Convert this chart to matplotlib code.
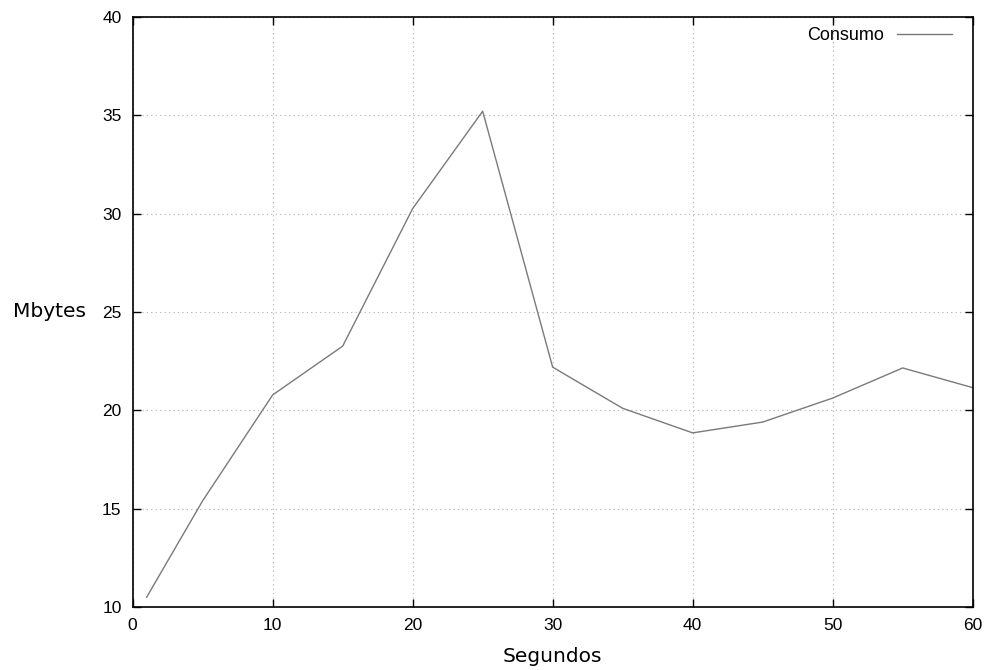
import matplotlib
matplotlib.use("Agg")
import matplotlib.pyplot as plt

segundos = [1, 5, 10, 15, 20, 25, 30, 35, 40, 45, 50, 55, 60]
mbytes = [10.5, 15.4, 20.78, 23.26, 30.25, 35.2, 22.19, 20.1, 18.85, 19.4, 20.62, 22.15, 21.15]
x_ticks = [0, 10, 20, 30, 40, 50, 60]
y_ticks = [10, 15, 20, 25, 30, 35, 40]

fig = plt.figure(figsize=(9.9, 6.7), dpi=100)
ax = fig.add_axes([0.134, 0.094, 0.8485, 0.881])

ax.plot(segundos, mbytes, color="#7a7a7a", linewidth=1.0, label="Consumo")

ax.set_xlim(0, 60)
ax.set_ylim(10, 40)
ax.set_xticks(x_ticks)
ax.set_yticks(y_ticks)
ax.tick_params(direction="in", length=6, width=1, top=True, right=True, pad=8)
for lbl in ax.get_xticklabels() + ax.get_yticklabels():
    lbl.set_fontfamily("Liberation Sans")
    lbl.set_fontsize(12.5)
ax.grid(True, linestyle=(0, (1, 3)), color="#b0b0b0", linewidth=0.8)
for s in ax.spines.values():
    s.set_linewidth(1.2)

ax.set_xlabel("Segundos", fontsize=14.5, va="center")
ax.set_ylabel("Mbytes", fontsize=14.5, rotation=0, va="center", ha="center")
ax.xaxis.set_label_coords(0.5, -0.083)
ax.yaxis.set_label_coords(-0.099, 0.5)

ax.legend(loc="upper right", bbox_to_anchor=(0.9835, 0.995), borderaxespad=0,
          frameon=False, markerfirst=False, handlelength=3.0, handletextpad=0.75,
          prop={"family": "Liberation Sans", "size": 13})

fig.savefig("out.png", dpi=100)
